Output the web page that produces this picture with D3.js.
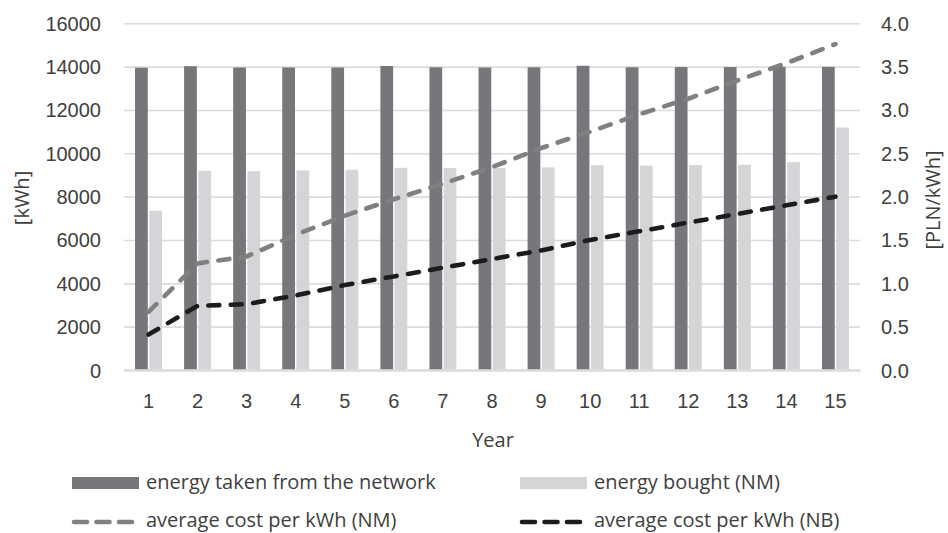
<!DOCTYPE html>
<html>
<head>
<meta charset="utf-8">
<script src="https://cdn.jsdelivr.net/npm/d3@7"></script>
<style>
  html, body { margin: 0; padding: 0; background: #fff; }
  svg { display: block; font-family: "Open Sans", sans-serif; }
  .tick text { fill: #404040; font-size: 20px; }
</style>
</head>
<body>
<svg id="chart" width="948" height="533"></svg>
<script>
// Years on the horizontal axis
const years = [1, 2, 3, 4, 5, 6, 7, 8, 9, 10, 11, 12, 13, 14, 15];

// Energy series [kWh] (left axis)
const energyTaken = [13950, 14020, 13960, 13960, 13960, 14030, 13970, 13960, 13970, 14040, 13970, 13980, 13980, 13990, 13990];
const energyBought = [7350, 9190, 9180, 9210, 9240, 9330, 9320, 9320, 9350, 9450, 9430, 9460, 9470, 9590, 11190];

// Average cost per kWh [PLN/kWh] (right axis)
const costNM = [0.67, 1.23, 1.31, 1.56, 1.78, 1.97, 2.15, 2.34, 2.56, 2.75, 2.95, 3.13, 3.34, 3.54, 3.76];
const costNB = [0.41, 0.74, 0.76, 0.86, 0.98, 1.08, 1.18, 1.28, 1.38, 1.50, 1.60, 1.70, 1.80, 1.90, 2.00];

// Axis tick values
const leftTicks = [0, 2000, 4000, 6000, 8000, 10000, 12000, 14000, 16000];
const rightTicks = [0, 0.5, 1, 1.5, 2, 2.5, 3, 3.5, 4];

const colors = {
  taken: "#76777b",
  bought: "#d4d5d7",
  nm: "#808080",
  nb: "#1c1c1c",
  grid: "#dcdcdc",
  text: "#404040"
};

const svg = d3.select("#chart");
const plot = { left: 124, right: 860, top: 23.3, bottom: 370 };

const x = d3.scaleBand().domain(years).range([plot.left, plot.right]).paddingInner(0).paddingOuter(0);
const yL = d3.scaleLinear().domain([0, 16000]).range([plot.bottom, plot.top]);
const yR = d3.scaleLinear().domain([0, 4]).range([plot.bottom, plot.top]);

const bw = x.bandwidth();
const barW = bw * 0.26;
const barGap = bw * 0.03;

// Horizontal gridlines + left tick labels
const gL = svg.append("g")
  .attr("transform", `translate(${plot.left},0)`)
  .call(d3.axisLeft(yL).tickValues(leftTicks).tickFormat(d3.format("d"))
    .tickSizeInner(-(plot.right - plot.left)).tickSizeOuter(0).tickPadding(23));
gL.select(".domain").remove();
gL.selectAll(".tick line").attr("stroke", colors.grid).attr("stroke-width", 1.6);
gL.selectAll(".tick text").attr("dy", "0.35em");

// Right tick labels
const gR = svg.append("g")
  .attr("transform", `translate(${plot.right},0)`)
  .call(d3.axisRight(yR).tickValues(rightTicks).tickFormat(d3.format(".1f"))
    .tickSize(0).tickPadding(21));
gR.select(".domain").remove();
gR.selectAll(".tick text").attr("dy", "0.35em");

// Bars
const barsG = svg.append("g");
barsG.selectAll("rect.taken")
  .data(years)
  .join("rect")
  .attr("class", "taken")
  .attr("x", (d) => x(d) + bw / 2 - barGap / 2 - barW)
  .attr("width", barW)
  .attr("y", (d, i) => yL(energyTaken[i]))
  .attr("height", (d, i) => yL(0) - yL(energyTaken[i]))
  .attr("fill", colors.taken);
barsG.selectAll("rect.bought")
  .data(years)
  .join("rect")
  .attr("class", "bought")
  .attr("x", (d) => x(d) + bw / 2 + barGap / 2)
  .attr("width", barW)
  .attr("y", (d, i) => yL(energyBought[i]))
  .attr("height", (d, i) => yL(0) - yL(energyBought[i]))
  .attr("fill", colors.bought);

// Bottom axis: baseline and year labels
const gB = svg.append("g")
  .attr("transform", `translate(0,${plot.bottom})`)
  .call(d3.axisBottom(x).tickSize(0).tickPadding(0));
gB.select(".domain").attr("stroke", colors.grid).attr("stroke-width", 2.4);
gB.selectAll(".tick text").attr("y", 31).attr("dy", "0.35em");

// Cost lines
const line = (vals) => d3.line()
  .x((d, i) => x(years[i]) + bw / 2)
  .y((d) => yR(d))(vals);

svg.append("path")
  .attr("d", line(costNM))
  .attr("fill", "none")
  .attr("stroke", colors.nm)
  .attr("stroke-width", 4.6)
  .attr("stroke-linecap", "round")
  .attr("stroke-dasharray", "11,11.5");

svg.append("path")
  .attr("d", line(costNB))
  .attr("fill", "none")
  .attr("stroke", colors.nb)
  .attr("stroke-width", 4.6)
  .attr("stroke-linecap", "round")
  .attr("stroke-dasharray", "11,11.5");

// Axis titles
svg.append("text")
  .attr("transform", "translate(22,198) rotate(-90)")
  .attr("text-anchor", "middle").attr("dy", "0.35em")
  .attr("fill", colors.text).attr("font-size", 20)
  .text("[kWh]");
svg.append("text")
  .attr("transform", "translate(933,200) rotate(-90)")
  .attr("text-anchor", "middle").attr("dy", "0.35em")
  .attr("fill", colors.text).attr("font-size", 20)
  .text("[PLN/kWh]");
svg.append("text")
  .attr("x", 493).attr("y", 440)
  .attr("text-anchor", "middle").attr("dy", "0.35em")
  .attr("fill", colors.text).attr("font-size", 20)
  .text("Year");

// Legend
const legendItems = [
  { label: "energy taken from the network", type: "bar", color: colors.taken, x: 72, y: 483 },
  { label: "energy bought (NM)", type: "bar", color: colors.bought, x: 520, y: 483 },
  { label: "average cost per kWh (NM)", type: "line", color: colors.nm, x: 72, y: 521 },
  { label: "average cost per kWh (NB)", type: "line", color: colors.nb, x: 520, y: 521 }
];
const lg = svg.append("g").selectAll("g").data(legendItems).join("g")
  .attr("transform", (d) => `translate(${d.x},${d.y})`);
lg.filter((d) => d.type === "bar").append("rect")
  .attr("x", 0).attr("y", -6).attr("width", 67).attr("height", 12)
  .attr("fill", (d) => d.color);
lg.filter((d) => d.type === "line").append("line")
  .attr("x1", 2).attr("x2", 64).attr("y1", 1).attr("y2", 1)
  .attr("stroke", (d) => d.color).attr("stroke-width", 4.6)
  .attr("stroke-linecap", "round").attr("stroke-dasharray", "13,9.5");
lg.append("text")
  .attr("x", 74).attr("dy", "0.3em")
  .attr("fill", colors.text).attr("font-size", 20)
  .text((d) => d.label);
</script>
</body>
</html>
